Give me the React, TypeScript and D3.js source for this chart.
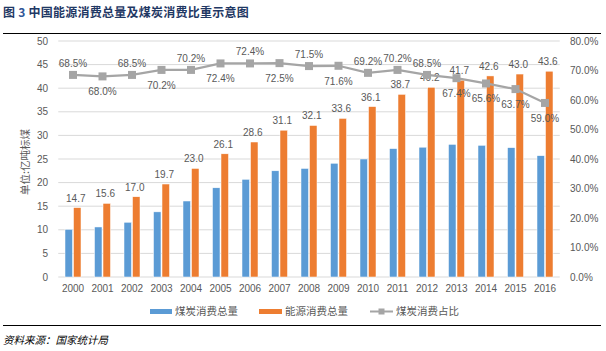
import React from "react";
import * as d3 from "d3";

// values
const years = ["2000", "2001", "2002", "2003", "2004", "2005", "2006", "2007", "2008", "2009", "2010", "2011", "2012", "2013", "2014", "2015", "2016"];
const energyTotal = [14.7, 15.6, 17.0, 19.7, 23.0, 26.1, 28.6, 31.1, 32.1, 33.6, 36.1, 38.7, 40.2, 41.7, 42.6, 43.0, 43.6];
const coalTotal = [10.1, 10.6, 11.6, 13.8, 16.1, 18.9, 20.7, 22.5, 23.0, 24.1, 25.0, 27.2, 27.5, 28.1, 27.9, 27.4, 25.7];
const coalShare = [68.5, 68.0, 68.5, 70.2, 70.2, 72.4, 72.4, 72.5, 71.5, 71.6, 69.2, 70.2, 68.5, 67.4, 65.6, 63.7, 59.0];
const shareLabelAbove = [true, false, true, false, true, false, true, false, true, false, true, true, true, false, false, false, false];
const leftTicks = [0, 5, 10, 15, 20, 25, 30, 35, 40, 45, 50];
const rightTicks = [0, 10, 20, 30, 40, 50, 60, 70, 80];

const W = 606;
const H = 351;
const plot = {left: 58.25, right: 559.75, top: 41, bottom: 277};
const BLUE = "#5b9bd5";
const ORANGE = "#ed7d31";
const GRAY = "#a5a5a5";
const TXT = "#595959";
const NUM_FONT = "'Liberation Sans', Arial, sans-serif";
const CJK_FONT = "'Noto Sans CJK SC', sans-serif";

export default function App() {
    const x = d3.scaleBand<string>()
        .domain(years)
        .range([plot.left, plot.right])
        .paddingInner(0.458)
        .paddingOuter(0.229);
    const sub = d3.scaleBand<string>()
        .domain(["coal", "energy"])
        .range([0, x.bandwidth()])
        .paddingInner(0.12);
    const y = d3.scaleLinear().domain([0, 50]).range([plot.bottom, plot.top]);
    const yr = d3.scaleLinear().domain([0, 80]).range([plot.bottom, plot.top]);

    const cx = (yr0: string) => (x(yr0) as number) + x.bandwidth() / 2;
    const line = d3.line<number>()
        .x((d, i) => cx(years[i]))
        .y(d => yr(d));

    return (
        <svg width={W} height={H} style={{position: "absolute", left: 0, top: 0, background: "#fff"}}>
            {/* title */}
            <text x={3} y={17} fontFamily={CJK_FONT} fontSize={12} fontWeight="bold" fill="#1f3864" letterSpacing={0.25}>
                图 <tspan fill="#2f5597">3</tspan> 中国能源消费总量及煤炭消费比重示意图
            </text>
            <line x1={3} x2={601} y1={33.5} y2={33.5} stroke="#000" strokeWidth={1}/>

            {/* grid */}
            {leftTicks.map(t => (
                <line key={t} x1={plot.left} x2={plot.right} y1={y(t)} y2={y(t)} stroke="#d9d9d9" strokeWidth={1}/>
            ))}

            {/* left axis */}
            {leftTicks.map(t => (
                <text key={"l" + t} x={48} y={y(t)} dy="0.35em" textAnchor="end" fontFamily={NUM_FONT} fontSize={10} fill={TXT}>{t}</text>
            ))}
            <text transform={`translate(25,${(plot.top + plot.bottom) / 2 + 3}) rotate(-90)`} textAnchor="middle" dy="0.35em"
                  fontFamily={CJK_FONT} fontSize={10.5} fill={TXT}>单位:亿吨标煤</text>

            {/* right axis */}
            {rightTicks.map(t => (
                <text key={"r" + t} x={570} y={yr(t)} dy="0.35em" textAnchor="start" fontFamily={NUM_FONT} fontSize={10} fill={TXT}>{t.toFixed(1)}%</text>
            ))}

            {/* bars */}
            {years.map((yr0, i) => (
                <g key={"b" + yr0} transform={`translate(${x(yr0)},0)`}>
                    <rect x={sub("coal")} y={y(coalTotal[i])} width={sub.bandwidth()} height={y(0) - y(coalTotal[i])}
                          fill={BLUE} stroke="#fff" strokeWidth={0.5}/>
                    <rect x={sub("energy")} y={y(energyTotal[i])} width={sub.bandwidth()} height={y(0) - y(energyTotal[i])}
                          fill={ORANGE} stroke="#fff" strokeWidth={0.5}/>
                    <text x={(sub("energy") as number) + sub.bandwidth() / 2 - 1.5} y={y(energyTotal[i]) - 6}
                          textAnchor="middle" fontFamily={NUM_FONT} fontSize={10} fill={TXT}>{energyTotal[i].toFixed(1)}</text>
                </g>
            ))}

            {/* x axis labels */}
            {years.map(yr0 => (
                <text key={"x" + yr0} x={cx(yr0)} y={292} textAnchor="middle" fontFamily={NUM_FONT} fontSize={10} fill={TXT}>{yr0}</text>
            ))}

            {/* share line */}
            <path d={line(coalShare) as string} fill="none" stroke={GRAY} strokeWidth={2.25}/>
            {coalShare.map((v, i) => (
                <g key={"p" + i}>
                    <rect x={cx(years[i]) - 4} y={yr(v) - 4} width={8} height={8} fill={GRAY}/>
                    <text x={cx(years[i])} y={shareLabelAbove[i] ? yr(v) - 8 : yr(v) + 19}
                          textAnchor="middle" fontFamily={NUM_FONT} fontSize={10} fill={TXT}>{v.toFixed(1)}%</text>
                </g>
            ))}

            {/* legend */}
            <rect x={150} y={309} width={22} height={5} fill={BLUE}/>
            <text x={175} y={311.5} dy="0.35em" fontFamily={CJK_FONT} fontSize={10.5} fill={TXT}>煤炭消费总量</text>
            <rect x={259} y={309} width={23} height={5} fill={ORANGE}/>
            <text x={285} y={311.5} dy="0.35em" fontFamily={CJK_FONT} fontSize={10.5} fill={TXT}>能源消费总量</text>
            <line x1={370} x2={393} y1={311.5} y2={311.5} stroke={GRAY} strokeWidth={2}/>
            <rect x={378.5} y={308.5} width={6} height={6} fill={GRAY}/>
            <text x={396} y={311.5} dy="0.35em" fontFamily={CJK_FONT} fontSize={10.5} fill={TXT}>煤炭消费占比</text>

            {/* footer */}
            <line x1={3} x2={601} y1={325.5} y2={325.5} stroke="#000" strokeWidth={1}/>
            <text x={3} y={344} fontFamily={CJK_FONT} fontSize={10.5} fontStyle="italic" fill="#000">资料来源：国家统计局</text>
        </svg>
    );
}
